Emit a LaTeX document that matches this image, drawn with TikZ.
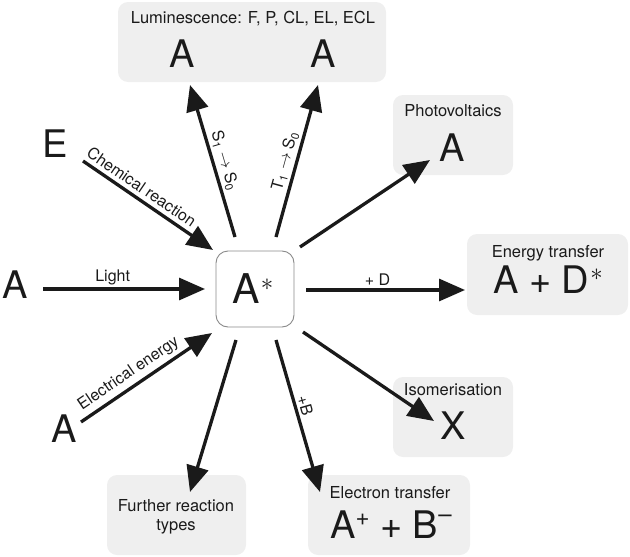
\documentclass[tikz,border=0pt]{standalone}
\usepackage{fontspec}
\setmainfont{TeX Gyre Heros}
\usetikzlibrary{arrows.meta}
\definecolor{boxfill}{HTML}{EFEFEF}
\definecolor{ink}{HTML}{1A1A1A}
\definecolor{rim}{HTML}{8A8A8A}
\newcommand{\supast}[2]{\kern1pt\raisebox{#2}{\fontsize{#1}{#1}\selectfont$\ast$}}
\begin{document}
\begin{tikzpicture}[x=1pt,y=-1pt,
  panel/.style={draw=none,fill=boxfill,rounded corners=10pt,inner sep=0pt},
  centrebox/.style={draw=rim,line width=0.9pt,fill=white,rounded corners=12pt,inner sep=0pt,minimum width=78pt,minimum height=76pt},
  title/.style={font=\fontsize{16.5}{19}\selectfont,text=ink,inner sep=0pt,anchor=base},
  big/.style={font=\fontsize{38}{40}\selectfont,text=ink,inner sep=0pt,anchor=base},
  lab/.style={font=\fontsize{16}{18}\selectfont,text=ink,inner sep=1.5pt},
  arr/.style={draw=ink,line width=3.3pt,-{Triangle[length=26pt,width=22pt]}}]
\useasboundingbox (0,0) rectangle (630,557);

% panels
\node[panel,minimum width=268pt,minimum height=80pt] (lum) at (252,42) {};
\node[panel,minimum width=120pt,minimum height=80pt] (photo) at (453,135) {};
\node[panel,minimum width=161pt,minimum height=81pt] (energy) at (547.5,274.5) {};
\node[panel,minimum width=120pt,minimum height=80pt] (isom) at (453,417) {};
\node[panel,minimum width=139pt,minimum height=80pt] (further) at (176.5,515) {};
\node[panel,minimum width=162pt,minimum height=80pt] (electron) at (389,515) {};
\node[centrebox] (centre) at (255,289) {};

% texts
\node[title] (lumt) at (253,23) {Luminescence: F, P, CL, EL, ECL};
\node[big] (lumA) at (182,67) {A};
\node[big] (lumB) at (323,67) {A};
\node[title] (photot) at (453,116) {Photovoltaics};
\node[big] (photoA) at (452,161) {A};
\node[title] (energyt) at (548,257) {Energy transfer};
\node[big] (energyA) at (548,293) {A + D\supast{29}{13pt}};
\node[title] (isomt) at (453,395) {Isomerisation};
\node[big] (isomX) at (453,439) {X};
\node[title] (furthert) at (176,511) {Further reaction};
\node[title] (furthert2) at (176,530) {types};
\node[title] (electront) at (390,498) {Electron transfer};
\node[big] (electronA) at (391,538) {A\raisebox{0.33em}{\fontsize{24}{24}\selectfont +} + B\raisebox{0.42em}{\fontsize{24}{24}\selectfont –}};
\node[big,font=\fontsize{41}{44}\selectfont] (astar) at (253,303) {A\supast{32}{13pt}};
\node[big] (srcA) at (15,298) {A};
\node[big] (srcE) at (55,157) {E};
\node[big] (srcEl) at (64,442) {A};

% connector ends
\coordinate (lightS) at (43,289);   \coordinate (lightE) at (205,289);
\coordinate (chemS) at (83,161);    \coordinate (chemE) at (213,250);
\coordinate (elS) at (81,422);      \coordinate (elE) at (212,333);
\coordinate (sS) at (235,237);      \coordinate (sE) at (190,85);
\coordinate (tS) at (276,237);      \coordinate (tE) at (318,85);
\coordinate (pvS) at (300,247);     \coordinate (pvE) at (430,160);
\coordinate (dS) at (306,290);      \coordinate (dE) at (465,290);
\coordinate (isS) at (303,332);     \coordinate (isE) at (434,421);
\coordinate (bS) at (276,340);      \coordinate (bE) at (320,492);
\coordinate (frS) at (236,340);     \coordinate (frE) at (190,492);

% connectors
\draw[arr] (lightS) -- (lightE) node[lab,pos=0.43,above=1pt] {Light};
\draw[arr] (chemS) -- (chemE) node[lab,pos=0.40,above=2.5pt,sloped] {Chemical reaction};
\draw[arr] (elS) -- (elE) node[lab,pos=0.42,above=2.5pt,sloped] {Electrical energy};
\draw[arr] (sS) -- (sE) node[lab,pos=0.48,above=1pt,sloped] {S\textsubscript{1} $\rightarrow$ S\textsubscript{0}};
\draw[arr] (tS) -- (tE) node[lab,pos=0.48,above=1pt,sloped] {T\textsubscript{1} $\rightarrow$ S\textsubscript{0}};
\draw[arr] (pvS) -- (pvE);
\draw[arr] (dS) -- (dE) node[lab,pos=0.45,above=1pt] {+ D};
\draw[arr] (isS) -- (isE);
\draw[arr] (bS) -- (bE) node[lab,pos=0.45,above=1pt,sloped] {+B};
\draw[arr] (frS) -- (frE);
\end{tikzpicture}
\end{document}
